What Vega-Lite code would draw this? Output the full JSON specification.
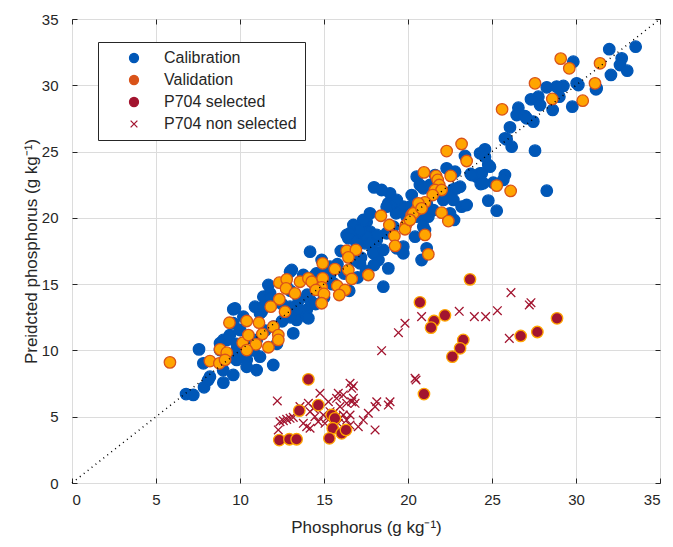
{
"$schema": "https://vega.github.io/schema/vega-lite/v6.json",
"width": 588, "height": 464,
"autosize": {"type": "none"},
"padding": {"left": 72, "top": 19, "right": 13, "bottom": 64},
"background": "white",
"config": {
 "view": {"stroke": "#262626", "strokeWidth": 1},
 "font": "Liberation Sans",
 "axis": {"labelFont": "Liberation Sans", "labelFontSize": 15, "labelColor": "#262626", "titleFont": "Liberation Sans", "titleFontSize": 17, "titleFontWeight": "normal", "titleColor": "#262626", "domain": false, "gridColor": "#dcdcdc", "gridWidth": 1, "tickColor": "#262626", "tickSize": -5, "tickWidth": 1},
 "legend": {"title": null, "orient": "none", "legendX": 26, "legendY": 23, "strokeColor": "#262626", "fillColor": "white", "padding": 8,
            "labelFont": "Liberation Sans", "labelFontSize": 16, "labelColor": "#262626", "symbolSize": 81, "symbolOpacity": 1, "symbolStrokeWidth": 1.3, "labelOffset": 22, "symbolOffset": 20, "rowPadding": 6}
},
"resolve": {"axis": {"x": "independent", "y": "independent"}, "scale": {"fill": "independent", "stroke": "independent", "shape": "independent"}},
"layer": [
 {
  "data": {"values": [
{"x":33.55,"y":32.91,"g":"Calibration"},{"x":31.98,"y":32.72,"g":"Calibration"},{"x":32.72,"y":32.03,"g":"Calibration"},{"x":32.62,"y":31.53,"g":"Calibration"},{"x":33.05,"y":31.10,"g":"Calibration"},{"x":32.08,"y":30.78,"g":"Calibration"},{"x":29.84,"y":31.78,"g":"Calibration"},{"x":30.04,"y":30.15,"g":"Calibration"},{"x":29.25,"y":29.95,"g":"Calibration"},{"x":28.26,"y":29.85,"g":"Calibration"},{"x":27.76,"y":29.14,"g":"Calibration"},{"x":27.32,"y":28.94,"g":"Calibration"},{"x":31.19,"y":29.70,"g":"Calibration"},{"x":29.01,"y":29.14,"g":"Calibration"},{"x":29.78,"y":28.39,"g":"Calibration"},{"x":28.61,"y":28.14,"g":"Calibration"},{"x":27.86,"y":28.51,"g":"Calibration"},{"x":26.57,"y":28.31,"g":"Calibration"},{"x":26.47,"y":27.76,"g":"Calibration"},{"x":26.96,"y":27.68,"g":"Calibration"},{"x":27.46,"y":27.26,"g":"Calibration"},{"x":27.06,"y":27.51,"g":"Calibration"},{"x":26.07,"y":26.83,"g":"Calibration"},{"x":25.77,"y":26.0,"g":"Calibration"},{"x":26.17,"y":25.37,"g":"Calibration"},{"x":27.56,"y":25.07,"g":"Calibration"},{"x":24.58,"y":25.17,"g":"Calibration"},{"x":24.29,"y":24.87,"g":"Calibration"},{"x":24.78,"y":23.99,"g":"Calibration"},{"x":24.39,"y":23.36,"g":"Calibration"},{"x":24.09,"y":23.11,"g":"Calibration"},{"x":23.73,"y":23.31,"g":"Calibration"},{"x":23.39,"y":24.67,"g":"Calibration"},{"x":25.77,"y":23.23,"g":"Calibration"},{"x":25.08,"y":22.65,"g":"Calibration"},{"x":24.33,"y":22.55,"g":"Calibration"},{"x":22.30,"y":23.74,"g":"Calibration"},{"x":22.80,"y":23.48,"g":"Calibration"},{"x":23.10,"y":22.35,"g":"Calibration"},{"x":22.70,"y":22.15,"g":"Calibration"},{"x":23.19,"y":20.84,"g":"Calibration"},{"x":23.49,"y":20.97,"g":"Calibration"},{"x":28.26,"y":22.05,"g":"Calibration"},{"x":24.78,"y":21.30,"g":"Calibration"},{"x":25.28,"y":20.54,"g":"Calibration"},{"x":20.52,"y":23.11,"g":"Calibration"},{"x":20.71,"y":22.48,"g":"Calibration"},{"x":20.22,"y":21.72,"g":"Calibration"},{"x":19.72,"y":20.84,"g":"Calibration"},{"x":19.52,"y":20.47,"g":"Calibration"},{"x":21.11,"y":21.10,"g":"Calibration"},{"x":21.31,"y":20.47,"g":"Calibration"},{"x":20.91,"y":20.09,"g":"Calibration"},{"x":22.5,"y":21.72,"g":"Calibration"},{"x":22.10,"y":21.35,"g":"Calibration"},{"x":28.85,"y":29.90,"g":"Calibration"},{"x":30.14,"y":30.02,"g":"Calibration"},{"x":31.23,"y":29.77,"g":"Calibration"},{"x":25.87,"y":25.92,"g":"Calibration"},{"x":20.91,"y":22.23,"g":"Calibration"},{"x":21.31,"y":22.48,"g":"Calibration"},{"x":21.61,"y":23.23,"g":"Calibration"},{"x":22.30,"y":21.60,"g":"Calibration"},{"x":22.60,"y":21.97,"g":"Calibration"},{"x":22.90,"y":22.23,"g":"Calibration"},{"x":22.70,"y":21.35,"g":"Calibration"},{"x":21.21,"y":20.09,"g":"Calibration"},{"x":21.51,"y":20.59,"g":"Calibration"},{"x":20.52,"y":20.09,"g":"Calibration"},{"x":20.91,"y":19.34,"g":"Calibration"},{"x":22.5,"y":20.34,"g":"Calibration"},{"x":22.74,"y":19.84,"g":"Calibration"},{"x":24.58,"y":24.61,"g":"Calibration"},{"x":24.88,"y":23.86,"g":"Calibration"},{"x":24.29,"y":23.36,"g":"Calibration"},{"x":23.79,"y":23.23,"g":"Calibration"},{"x":24.48,"y":22.61,"g":"Calibration"},{"x":25.67,"y":22.86,"g":"Calibration"},{"x":17.98,"y":22.30,"g":"Calibration"},{"x":18.93,"y":21.85,"g":"Calibration"},{"x":18.43,"y":22.10,"g":"Calibration"},{"x":18.83,"y":21.10,"g":"Calibration"},{"x":19.52,"y":20.84,"g":"Calibration"},{"x":19.29,"y":20.34,"g":"Calibration"},{"x":16.75,"y":19.46,"g":"Calibration"},{"x":17.54,"y":19.71,"g":"Calibration"},{"x":17.74,"y":18.96,"g":"Calibration"},{"x":17.14,"y":18.71,"g":"Calibration"},{"x":16.35,"y":18.71,"g":"Calibration"},{"x":17.44,"y":18.08,"g":"Calibration"},{"x":18.14,"y":18.33,"g":"Calibration"},{"x":17.94,"y":17.58,"g":"Calibration"},{"x":18.53,"y":17.58,"g":"Calibration"},{"x":19.72,"y":17.83,"g":"Calibration"},{"x":18.24,"y":16.82,"g":"Calibration"},{"x":17.98,"y":16.44,"g":"Calibration"},{"x":18.83,"y":16.19,"g":"Calibration"},{"x":14.17,"y":17.45,"g":"Calibration"},{"x":14.86,"y":16.82,"g":"Calibration"},{"x":13.08,"y":16.07,"g":"Calibration"},{"x":18.53,"y":14.81,"g":"Calibration"},{"x":11.69,"y":14.94,"g":"Calibration"},{"x":11.59,"y":14.05,"g":"Calibration"},{"x":11.98,"y":13.56,"g":"Calibration"},{"x":11.29,"y":12.92,"g":"Calibration"},{"x":9.70,"y":13.18,"g":"Calibration"},{"x":13.37,"y":12.80,"g":"Calibration"},{"x":13.97,"y":13.05,"g":"Calibration"},{"x":14.17,"y":13.80,"g":"Calibration"},{"x":15.36,"y":15.69,"g":"Calibration"},{"x":15.56,"y":15.06,"g":"Calibration"},{"x":14.56,"y":15.82,"g":"Calibration"},{"x":19.33,"y":21.35,"g":"Calibration"},{"x":18.93,"y":20.97,"g":"Calibration"},{"x":20.12,"y":20.84,"g":"Calibration"},{"x":19.92,"y":20.09,"g":"Calibration"},{"x":19.13,"y":19.34,"g":"Calibration"},{"x":18.73,"y":18.84,"g":"Calibration"},{"x":18.14,"y":18.71,"g":"Calibration"},{"x":17.54,"y":18.58,"g":"Calibration"},{"x":17.14,"y":19.08,"g":"Calibration"},{"x":16.55,"y":18.84,"g":"Calibration"},{"x":16.45,"y":18.46,"g":"Calibration"},{"x":16.94,"y":18.08,"g":"Calibration"},{"x":17.74,"y":18.08,"g":"Calibration"},{"x":17.94,"y":17.33,"g":"Calibration"},{"x":19.33,"y":17.70,"g":"Calibration"},{"x":19.72,"y":17.33,"g":"Calibration"},{"x":20.42,"y":18.58,"g":"Calibration"},{"x":21.01,"y":19.08,"g":"Calibration"},{"x":21.11,"y":17.70,"g":"Calibration"},{"x":20.81,"y":16.82,"g":"Calibration"},{"x":17.34,"y":19.84,"g":"Calibration"},{"x":17.74,"y":20.34,"g":"Calibration"},{"x":18.73,"y":20.84,"g":"Calibration"},{"x":15.36,"y":16.32,"g":"Calibration"},{"x":14.37,"y":15.56,"g":"Calibration"},{"x":12.98,"y":15.94,"g":"Calibration"},{"x":13.77,"y":15.69,"g":"Calibration"},{"x":12.78,"y":14.81,"g":"Calibration"},{"x":11.39,"y":14.05,"g":"Calibration"},{"x":11.79,"y":14.31,"g":"Calibration"},{"x":17.14,"y":16.57,"g":"Calibration"},{"x":6.79,"y":6.71,"g":"Calibration"},{"x":7.22,"y":6.64,"g":"Calibration"},{"x":7.86,"y":7.22,"g":"Calibration"},{"x":8.21,"y":8.02,"g":"Calibration"},{"x":9.01,"y":7.57,"g":"Calibration"},{"x":7.56,"y":10.08,"g":"Calibration"},{"x":9.60,"y":13.10,"g":"Calibration"},{"x":9.01,"y":10.79,"g":"Calibration"},{"x":9.40,"y":11.16,"g":"Calibration"},{"x":9.80,"y":9.28,"g":"Calibration"},{"x":10.40,"y":9.28,"g":"Calibration"},{"x":10.20,"y":12.54,"g":"Calibration"},{"x":11.19,"y":12.80,"g":"Calibration"},{"x":10.89,"y":13.30,"g":"Calibration"},{"x":9.60,"y":12.05,"g":"Calibration"},{"x":10.0,"y":11.54,"g":"Calibration"},{"x":9.21,"y":10.79,"g":"Calibration"},{"x":8.81,"y":10.03,"g":"Calibration"},{"x":9.80,"y":10.03,"g":"Calibration"},{"x":11.19,"y":9.53,"g":"Calibration"},{"x":10.99,"y":8.52,"g":"Calibration"},{"x":11.98,"y":8.90,"g":"Calibration"},{"x":10.40,"y":8.77,"g":"Calibration"},{"x":9.60,"y":8.15,"g":"Calibration"},{"x":7.82,"y":9.03,"g":"Calibration"},{"x":8.11,"y":7.77,"g":"Calibration"},{"x":13.17,"y":11.29,"g":"Calibration"},{"x":13.37,"y":12.30,"g":"Calibration"},{"x":12.98,"y":13.30,"g":"Calibration"},{"x":13.57,"y":13.05,"g":"Calibration"},{"x":13.97,"y":12.54,"g":"Calibration"},{"x":14.07,"y":12.42,"g":"Calibration"},{"x":8.81,"y":10.54,"g":"Calibration"},{"x":11.39,"y":13.30,"g":"Calibration"},{"x":11.79,"y":13.93,"g":"Calibration"},{"x":14.5,"y":13.5,"g":"Calibration"},{"x":15.0,"y":14.0,"g":"Calibration"},{"x":15.5,"y":15.0,"g":"Calibration"},{"x":14.0,"y":14.2,"g":"Calibration"},{"x":13.5,"y":13.8,"g":"Calibration"},{"x":12.5,"y":12.2,"g":"Calibration"},{"x":12.0,"y":11.8,"g":"Calibration"},{"x":11.5,"y":11.5,"g":"Calibration"},{"x":13.0,"y":12.5,"g":"Calibration"},{"x":12.2,"y":10.5,"g":"Calibration"},{"x":11.0,"y":10.8,"g":"Calibration"},{"x":10.8,"y":10.0,"g":"Calibration"},{"x":10.2,"y":9.8,"g":"Calibration"},{"x":9.8,"y":10.5,"g":"Calibration"},{"x":9.5,"y":9.5,"g":"Calibration"},{"x":10.5,"y":11.0,"g":"Calibration"},{"x":9.0,"y":8.5,"g":"Calibration"},{"x":12.5,"y":13.5,"g":"Calibration"},{"x":13.0,"y":14.5,"g":"Calibration"},{"x":14.5,"y":14.8,"g":"Calibration"},{"x":15.2,"y":15.5,"g":"Calibration"},{"x":15.8,"y":16.5,"g":"Calibration"},{"x":16.2,"y":15.8,"g":"Calibration"},{"x":16.8,"y":16.8,"g":"Calibration"},{"x":17.2,"y":17.0,"g":"Calibration"},{"x":17.5,"y":16.0,"g":"Calibration"},{"x":16.0,"y":17.5,"g":"Calibration"},{"x":15.0,"y":16.0,"g":"Calibration"},{"x":16.5,"y":14.5,"g":"Calibration"},{"x":17.0,"y":15.5,"g":"Calibration"},
{"x":29.09,"y":32.01,"g":"Validation"},{"x":29.60,"y":31.28,"g":"Validation"},{"x":31.43,"y":31.66,"g":"Validation"},{"x":31.13,"y":30.15,"g":"Validation"},{"x":27.56,"y":30.15,"g":"Validation"},{"x":28.59,"y":28.97,"g":"Validation"},{"x":30.40,"y":28.84,"g":"Validation"},{"x":25.60,"y":28.19,"g":"Validation"},{"x":23.19,"y":25.57,"g":"Validation"},{"x":22.30,"y":25.04,"g":"Validation"},{"x":23.49,"y":24.29,"g":"Validation"},{"x":20.95,"y":23.43,"g":"Validation"},{"x":21.67,"y":23.16,"g":"Validation"},{"x":21.77,"y":22.86,"g":"Validation"},{"x":21.86,"y":22.48,"g":"Validation"},{"x":21.61,"y":22.10,"g":"Validation"},{"x":22.54,"y":23.16,"g":"Validation"},{"x":22.0,"y":22.10,"g":"Validation"},{"x":25.28,"y":22.43,"g":"Validation"},{"x":26.11,"y":22.03,"g":"Validation"},{"x":21.47,"y":21.72,"g":"Validation"},{"x":21.01,"y":21.17,"g":"Validation"},{"x":20.52,"y":20.59,"g":"Validation"},{"x":20.22,"y":20.22,"g":"Validation"},{"x":19.88,"y":19.46,"g":"Validation"},{"x":22.0,"y":20.39,"g":"Validation"},{"x":22.40,"y":19.76,"g":"Validation"},{"x":18.39,"y":20.16,"g":"Validation"},{"x":18.89,"y":19.46,"g":"Validation"},{"x":19.82,"y":19.14,"g":"Validation"},{"x":19.19,"y":18.63,"g":"Validation"},{"x":19.23,"y":17.88,"g":"Validation"},{"x":16.35,"y":17.52,"g":"Validation"},{"x":16.90,"y":17.58,"g":"Validation"},{"x":16.45,"y":17.02,"g":"Validation"},{"x":14.92,"y":16.57,"g":"Validation"},{"x":15.65,"y":16.14,"g":"Validation"},{"x":16.45,"y":16.07,"g":"Validation"},{"x":16.65,"y":15.39,"g":"Validation"},{"x":17.64,"y":15.69,"g":"Validation"},{"x":12.34,"y":15.11,"g":"Validation"},{"x":12.78,"y":15.36,"g":"Validation"},{"x":12.74,"y":14.68,"g":"Validation"},{"x":13.27,"y":14.31,"g":"Validation"},{"x":12.34,"y":13.86,"g":"Validation"},{"x":11.83,"y":13.30,"g":"Validation"},{"x":12.68,"y":12.92,"g":"Validation"},{"x":13.57,"y":15.18,"g":"Validation"},{"x":14.07,"y":15.44,"g":"Validation"},{"x":14.27,"y":15.18,"g":"Validation"},{"x":14.92,"y":15.44,"g":"Validation"},{"x":14.86,"y":14.76,"g":"Validation"},{"x":14.52,"y":14.56,"g":"Validation"},{"x":15.0,"y":14.26,"g":"Validation"},{"x":14.86,"y":13.56,"g":"Validation"},{"x":15.79,"y":14.86,"g":"Validation"},{"x":16.25,"y":14.56,"g":"Validation"},{"x":15.91,"y":14.18,"g":"Validation"},{"x":5.83,"y":9.10,"g":"Validation"},{"x":9.37,"y":12.09,"g":"Validation"},{"x":8.81,"y":10.08,"g":"Validation"},{"x":9.21,"y":9.83,"g":"Validation"},{"x":8.21,"y":9.20,"g":"Validation"},{"x":8.77,"y":9.03,"g":"Validation"},{"x":9.11,"y":9.28,"g":"Validation"},{"x":10.16,"y":10.58,"g":"Validation"},{"x":10.40,"y":12.22,"g":"Validation"},{"x":10.50,"y":11.16,"g":"Validation"},{"x":11.13,"y":12.09,"g":"Validation"},{"x":11.98,"y":11.79,"g":"Validation"},{"x":12.28,"y":11.16,"g":"Validation"},{"x":12.28,"y":10.79,"g":"Validation"},{"x":11.33,"y":11.24,"g":"Validation"},{"x":10.95,"y":10.46,"g":"Validation"},{"x":11.69,"y":10.24,"g":"Validation"},{"x":10.40,"y":10.03,"g":"Validation"},{"x":21.01,"y":18.71,"g":"Validation"},{"x":21.21,"y":17.25,"g":"Validation"},{"x":20.32,"y":20.34,"g":"Validation"},{"x":20.12,"y":19.84,"g":"Validation"},{"x":20.62,"y":21.10,"g":"Validation"},{"x":20.81,"y":20.72,"g":"Validation"},
{"x":26.13,"y":14.36,"g":"P704 non selected"},{"x":27.32,"y":13.60,"g":"P704 non selected"},{"x":27.22,"y":13.43,"g":"P704 non selected"},{"x":25.32,"y":13.0,"g":"P704 non selected"},{"x":24.62,"y":12.55,"g":"P704 non selected"},{"x":23.95,"y":12.55,"g":"P704 non selected"},{"x":23.05,"y":12.95,"g":"P704 non selected"},{"x":20.81,"y":12.55,"g":"P704 non selected"},{"x":19.82,"y":12.05,"g":"P704 non selected"},{"x":19.43,"y":11.34,"g":"P704 non selected"},{"x":18.43,"y":9.98,"g":"P704 non selected"},{"x":26.03,"y":10.91,"g":"P704 non selected"},{"x":20.48,"y":7.77,"g":"P704 non selected"},{"x":20.42,"y":7.9,"g":"P704 non selected"},{"x":12.22,"y":6.19,"g":"P704 non selected"},{"x":14.76,"y":6.77,"g":"P704 non selected"},{"x":16.55,"y":7.52,"g":"P704 non selected"},{"x":16.75,"y":7.32,"g":"P704 non selected"},{"x":16.65,"y":7.14,"g":"P704 non selected"},{"x":16.15,"y":6.64,"g":"P704 non selected"},{"x":16.75,"y":6.39,"g":"P704 non selected"},{"x":16.65,"y":6.13,"g":"P704 non selected"},{"x":16.85,"y":6.01,"g":"P704 non selected"},{"x":15.75,"y":6.39,"g":"P704 non selected"},{"x":15.26,"y":6.13,"g":"P704 non selected"},{"x":14.07,"y":6.01,"g":"P704 non selected"},{"x":13.57,"y":5.76,"g":"P704 non selected"},{"x":18.14,"y":6.13,"g":"P704 non selected"},{"x":18.04,"y":5.76,"g":"P704 non selected"},{"x":18.93,"y":6.13,"g":"P704 non selected"},{"x":18.83,"y":5.88,"g":"P704 non selected"},{"x":17.64,"y":5.26,"g":"P704 non selected"},{"x":17.34,"y":4.75,"g":"P704 non selected"},{"x":17.04,"y":4.25,"g":"P704 non selected"},{"x":18.04,"y":4.0,"g":"P704 non selected"},{"x":12.38,"y":4.62,"g":"P704 non selected"},{"x":12.58,"y":4.70,"g":"P704 non selected"},{"x":12.78,"y":4.80,"g":"P704 non selected"},{"x":12.98,"y":4.88,"g":"P704 non selected"},{"x":13.17,"y":4.95,"g":"P704 non selected"},{"x":12.28,"y":4.0,"g":"P704 non selected"},{"x":13.77,"y":4.50,"g":"P704 non selected"},{"x":13.97,"y":4.25,"g":"P704 non selected"},{"x":14.17,"y":4.13,"g":"P704 non selected"},{"x":14.46,"y":5.0,"g":"P704 non selected"},{"x":14.66,"y":4.62,"g":"P704 non selected"},{"x":14.96,"y":5.13,"g":"P704 non selected"},{"x":15.16,"y":4.88,"g":"P704 non selected"},{"x":15.06,"y":4.50,"g":"P704 non selected"},{"x":15.36,"y":5.38,"g":"P704 non selected"},{"x":15.56,"y":5.26,"g":"P704 non selected"},{"x":15.75,"y":5.05,"g":"P704 non selected"},{"x":15.95,"y":4.88,"g":"P704 non selected"},{"x":16.15,"y":5.13,"g":"P704 non selected"},{"x":16.35,"y":4.75,"g":"P704 non selected"},{"x":16.55,"y":5.13,"g":"P704 non selected"},{"x":15.85,"y":4.50,"g":"P704 non selected"},{"x":16.55,"y":4.37,"g":"P704 non selected"},{"x":14.17,"y":5.38,"g":"P704 non selected"},{"x":14.37,"y":5.63,"g":"P704 non selected"},{"x":15.95,"y":5.76,"g":"P704 non selected"},{"x":16.35,"y":6.01,"g":"P704 non selected"},{"x":15.85,"y":6.77,"g":"P704 non selected"},
{"x":23.69,"y":15.36,"g":"P704 selected"},{"x":20.71,"y":13.63,"g":"P704 selected"},{"x":21.55,"y":12.22,"g":"P704 selected"},{"x":21.37,"y":11.72,"g":"P704 selected"},{"x":22.20,"y":12.65,"g":"P704 selected"},{"x":23.29,"y":10.79,"g":"P704 selected"},{"x":23.10,"y":10.16,"g":"P704 selected"},{"x":22.64,"y":9.53,"g":"P704 selected"},{"x":20.95,"y":6.71,"g":"P704 selected"},{"x":26.71,"y":11.09,"g":"P704 selected"},{"x":27.70,"y":11.39,"g":"P704 selected"},{"x":28.87,"y":12.42,"g":"P704 selected"},{"x":14.07,"y":7.82,"g":"P704 selected"},{"x":13.53,"y":5.46,"g":"P704 selected"},{"x":14.66,"y":5.88,"g":"P704 selected"},{"x":15.46,"y":5.13,"g":"P704 selected"},{"x":15.65,"y":4.88,"g":"P704 selected"},{"x":15.52,"y":4.13,"g":"P704 selected"},{"x":16.05,"y":3.75,"g":"P704 selected"},{"x":16.31,"y":4.0,"g":"P704 selected"},{"x":15.32,"y":3.37,"g":"P704 selected"},{"x":12.34,"y":3.24,"g":"P704 selected"},{"x":12.94,"y":3.30,"g":"P704 selected"},{"x":13.37,"y":3.30,"g":"P704 selected"}
  ]},
  "mark": {"type": "point", "filled": true, "strokeWidth": 1.3, "opacity": 1},
  "encoding": {
   "x": {"field": "x", "type": "quantitative", "scale": {"domain": [0, 35], "nice": false, "zero": false},
         "axis": {"orient": "bottom", "values": [0, 5, 10, 15, 20, 25, 30, 35], "title": "Phosphorus (g kg⁻¹)", "labelPadding": 14, "titleY": 36, "grid": true}},
   "y": {"field": "y", "type": "quantitative", "scale": {"domain": [0, 35], "nice": false, "zero": false},
         "axis": {"orient": "left", "values": [0, 5, 10, 15, 20, 25, 30, 35], "title": "Preidcted phosphorus (g kg⁻¹)", "labelPadding": 19, "titleX": -41, "titleBaseline": "middle", "grid": true}},
   "shape": {"field": "g", "type": "nominal", "legend": null,
         "scale": {"domain": ["Calibration", "Validation", "P704 selected", "P704 non selected"], "range": ["circle", "circle", "circle", "M-0.75,-0.75L0.75,0.75M-0.75,0.75L0.75,-0.75"]}},
   "stroke": {"field": "g", "type": "nominal", "legend": null,
         "scale": {"domain": ["Calibration", "Validation", "P704 selected", "P704 non selected"], "range": ["#0057b7", "#d95319", "#ffa500", "#a2142f"]}},
   "fill": {"field": "g", "type": "nominal", "legend": null,
         "scale": {"domain": ["Calibration", "Validation", "P704 selected", "P704 non selected"], "range": ["#0057b7", "#ffa500", "#a2142f", "transparent"]}},
   "size": {"value": 132}
  }
 },
 {
  "data": {"values": [{"x": 0, "y": 0}, {"x": 35, "y": 35}]},
  "mark": {"type": "line", "color": "#000000", "strokeDash": [1, 4], "strokeWidth": 1.5},
  "encoding": {
   "x": {"field": "x", "type": "quantitative", "scale": {"domain": [0, 35], "nice": false, "zero": false},
         "axis": {"orient": "top", "values": [0, 5, 10, 15, 20, 25, 30, 35], "labels": false, "grid": false, "title": null}},
   "y": {"field": "y", "type": "quantitative", "scale": {"domain": [0, 35], "nice": false, "zero": false},
         "axis": {"orient": "right", "values": [0, 5, 10, 15, 20, 25, 30, 35], "labels": false, "grid": false, "title": null}}
  }
 },
 {
  "data": {"values": [{"x": 1, "y": 34, "g": "Calibration"}, {"x": 1, "y": 34, "g": "Validation"}, {"x": 1, "y": 34, "g": "P704 selected"}, {"x": 1, "y": 34, "g": "P704 non selected"}]},
  "mark": {"type": "point", "filled": true, "strokeWidth": 1.3, "opacity": 0},
  "encoding": {
   "x": {"field": "x", "type": "quantitative", "scale": {"domain": [0, 35], "nice": false, "zero": false}, "axis": null},
   "y": {"field": "y", "type": "quantitative", "scale": {"domain": [0, 35], "nice": false, "zero": false}, "axis": null},
   "shape": {"field": "g", "type": "nominal",
         "scale": {"domain": ["Calibration", "Validation", "P704 selected", "P704 non selected"], "range": ["circle", "circle", "circle", "M-0.75,-0.75L0.75,0.75M-0.75,0.75L0.75,-0.75"]}},
   "stroke": {"field": "g", "type": "nominal",
         "scale": {"domain": ["Calibration", "Validation", "P704 selected", "P704 non selected"], "range": ["#0057b7", "#d95319", "#a2142f", "#a2142f"]}},
   "fill": {"field": "g", "type": "nominal",
         "scale": {"domain": ["Calibration", "Validation", "P704 selected", "P704 non selected"], "range": ["#0057b7", "#d95319", "#a2142f", "transparent"]}}
  }
 }
]
}
